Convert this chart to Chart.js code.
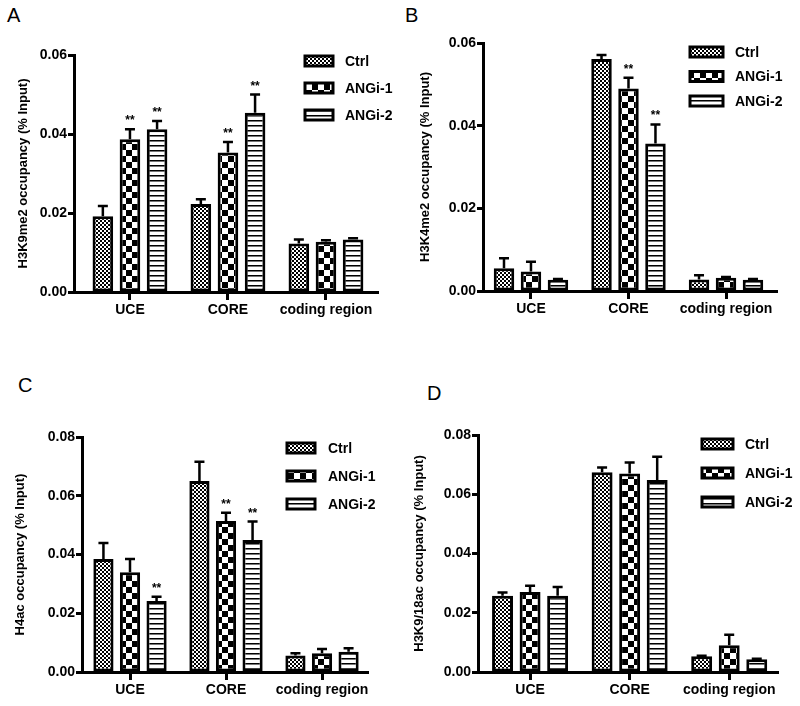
<!DOCTYPE html>
<html>
<head>
<meta charset="utf-8">
<title>Histone mark occupancy</title>
<script src="https://cdn.jsdelivr.net/npm/chart.js@4.4.0/dist/chart.umd.min.js"></script>
<style>
    body { margin: 0; background: #fff; }
    #fig { position: relative; width: 800px; height: 706px; }
    #fig canvas { position: absolute; }
    .letter { position: absolute; font: 20px "Liberation Sans", Arial, sans-serif; line-height: 20px; color: #000; }
</style>
</head>
<body>
<div id="fig">
    <div class="letter" style="left:7px;top:5px">A</div>
    <div class="letter" style="left:405px;top:5px">B</div>
    <div class="letter" style="left:18px;top:375px">C</div>
    <div class="letter" style="left:427px;top:383px">D</div>
    <canvas id="chartA" width="400" height="353" style="left:0;top:0"></canvas>
    <canvas id="chartB" width="400" height="353" style="left:400px;top:0"></canvas>
    <canvas id="chartC" width="400" height="353" style="left:0;top:353px"></canvas>
    <canvas id="chartD" width="400" height="353" style="left:400px;top:353px"></canvas>
</div>
<script>
const regions = ['UCE', 'CORE', 'coding region'];
const groups = ['Ctrl', 'ANGi-1', 'ANGi-2'];

// rows: Ctrl, ANGi-1, ANGi-2 / columns: UCE, CORE, coding region
const h3k9me2Mean = [[0.0192, 0.0223, 0.0123], [0.0387, 0.0353, 0.0127], [0.0412, 0.0454, 0.0133]];
const h3k9me2Sem = [[0.0026, 0.0012, 0.0010], [0.0025, 0.0027, 0.0004], [0.0021, 0.0046, 0.0003]];
const h3k9me2Stars = [[0, 0, 0], [1, 1, 0], [1, 1, 0]];

const h3k4me2Mean = [[0.0055, 0.0561, 0.0028], [0.0047, 0.0490, 0.0032], [0.0027, 0.0357, 0.0027]];
const h3k4me2Sem = [[0.0024, 0.0010, 0.0010], [0.0024, 0.0026, 0.0002], [0.0002, 0.0046, 0.0002]];
const h3k4me2Stars = [[0, 0, 0], [0, 1, 0], [0, 1, 0]];

const h4acMean = [[0.0385, 0.0650, 0.0056], [0.0340, 0.0514, 0.0064], [0.0242, 0.0449, 0.0069]];
const h4acSem = [[0.0054, 0.0066, 0.0008], [0.0045, 0.0028, 0.0014], [0.0014, 0.0063, 0.0012]];
const h4acStars = [[0, 0, 0], [0, 1, 0], [1, 1, 0]];

const h3k918acMean = [[0.0257, 0.0674, 0.0053], [0.0270, 0.0670, 0.0090], [0.0257, 0.0648, 0.0043]];
const h3k918acSem = [[0.0011, 0.0016, 0.0002], [0.0021, 0.0037, 0.0036], [0.0030, 0.0079, 0.0002]];
const h3k918acStars = [[0, 0, 0], [0, 0, 0], [0, 0, 0]];

const FONT = '"Liberation Sans", Arial, sans-serif';
Chart.defaults.font.family = FONT;
Chart.defaults.color = '#000';

function makePattern(kind) {
    const c = document.createElement('canvas');
    const g = c.getContext('2d');
    if (kind === 'fine') {
        c.width = 4; c.height = 4;
        g.fillStyle = '#fff'; g.fillRect(0, 0, 4, 4);
        g.fillStyle = '#000'; g.fillRect(0, 0, 2, 2); g.fillRect(2, 2, 2, 2);
    } else if (kind === 'check') {
        c.width = 12; c.height = 12;
        g.fillStyle = '#fff'; g.fillRect(0, 0, 12, 12);
        g.fillStyle = '#000'; g.fillRect(0, 0, 6, 6); g.fillRect(6, 6, 6, 6);
    } else {
        c.width = 4; c.height = 5;
        g.fillStyle = '#fff'; g.fillRect(0, 0, 4, 5);
        g.fillStyle = '#000'; g.fillRect(0, 0, 4, 1);
        g.fillStyle = '#777'; g.fillRect(0, 1, 4, 1);
    }
    return g.createPattern(c, 'repeat');
}
const fills = [makePattern('fine'), makePattern('check'), makePattern('stripe')];

// error bars (upper half only) and significance stars
const errorBars = {
    id: 'errorBars',
    afterDatasetsDraw(chart) {
        const ctx = chart.ctx;
        const yScale = chart.scales.y;
        ctx.save();
        ctx.strokeStyle = '#000';
        ctx.lineWidth = 2.5;
        ctx.fillStyle = '#000';
        ctx.font = 'bold 12px ' + FONT;
        ctx.textAlign = 'center';
        chart.data.datasets.forEach((ds, i) => {
            chart.getDatasetMeta(i).data.forEach((bar, j) => {
                const top = yScale.getPixelForValue(ds.data[j].y + ds.sem[j]);
                ctx.beginPath();
                ctx.moveTo(bar.x, bar.y);
                ctx.lineTo(bar.x, top);
                ctx.moveTo(bar.x - 5, top);
                ctx.lineTo(bar.x + 5, top);
                ctx.stroke();
                if (ds.stars[j]) ctx.fillText('**', bar.x, top - 5);
            });
        });
        ctx.restore();
    }
};

// legend with patterned boxes, placed inside the plot
const boxLegend = {
    id: 'boxLegend',
    afterDraw(chart, args, opts) {
        const ctx = chart.ctx;
        ctx.save();
        ctx.font = 'bold 14px ' + FONT;
        ctx.textBaseline = 'middle';
        chart.data.datasets.forEach((ds, i) => {
            const cy = opts.y + i * opts.gap;
            ctx.fillStyle = ds.backgroundColor;
            ctx.fillRect(opts.x, cy - 5, opts.w, 10);
            ctx.lineWidth = 3;
            ctx.strokeStyle = '#000';
            ctx.strokeRect(opts.x, cy - 5, opts.w, 10);
            ctx.fillStyle = '#000';
            ctx.fillText(ds.label, opts.labelX, cy + 1);
        });
        ctx.restore();
    }
};

function createPanel(id, means, sems, stars, yMax, title, box) {
    const datasets = groups.map((g, i) => ({
        label: g,
        data: means[i].map((v, j) => ({ x: j, y: v })),
        sem: sems[i],
        stars: stars[i],
        backgroundColor: fills[i],
        borderColor: '#000',
        borderWidth: 3,
        borderSkipped: false,
        categoryPercentage: 0.83,
        barPercentage: 0.76
    }));
    new Chart(document.getElementById(id), {
        type: 'bar',
        data: { datasets: datasets },
        plugins: [errorBars, boxLegend],
        options: {
            responsive: false,
            animation: false,
            layout: {
                padding: { left: 0, top: box.top, right: 400 - box.right, bottom: 353 - box.bottom - 36 }
            },
            scales: {
                x: {
                    type: 'linear',
                    min: box.xMin,
                    max: box.xMax,
                    offset: false,
                    afterBuildTicks: s => { s.ticks = [0, 1, 2].map(v => ({ value: v })); },
                    afterFit: s => { s.height = 36; },
                    ticks: {
                        callback: (v, i) => regions[i],
                        autoSkip: false,
                        maxRotation: 0,
                        padding: 2,
                        font: { size: 14, weight: 'bold' }
                    },
                    grid: { display: true, drawOnChartArea: false, offset: false, tickLength: 8, tickWidth: 3, tickColor: '#000' },
                    border: { display: true, color: '#000', width: 3 }
                },
                y: {
                    min: 0,
                    max: yMax,
                    afterFit: s => { s.width = box.left; },
                    ticks: {
                        stepSize: 0.02,
                        padding: 1,
                        callback: v => v.toFixed(2),
                        font: { size: 14, weight: 'bold' }
                    },
                    grid: { display: true, drawOnChartArea: false, tickLength: 6, tickWidth: 3, tickColor: '#000' },
                    border: { display: true, color: '#000', width: 3 },
                    title: {
                        display: true,
                        text: title,
                        padding: { top: box.titleX - 8, bottom: 0 },
                        font: { size: 13, weight: 'bold' }
                    }
                }
            },
            plugins: {
                legend: { display: false },
                tooltip: { enabled: false },
                boxLegend: box.legend
            }
        }
    });
}

createPanel('chartA', h3k9me2Mean, h3k9me2Sem, h3k9me2Stars, 0.06, 'H3K9me2 occupancy (% Input)', {
    left: 74, right: 378, top: 55, bottom: 292, xMin: -0.571, xMax: 2.531, titleX: 24,
    legend: { x: 305, y: 61, gap: 27, w: 28, labelX: 345 }
});
createPanel('chartB', h3k4me2Mean, h3k4me2Sem, h3k4me2Stars, 0.06, 'H3K4me2 occupancy (% Input)', {
    left: 83, right: 377, top: 43, bottom: 291, xMin: -0.492, xMax: 2.523, titleX: 26,
    legend: { x: 290, y: 52, gap: 24.5, w: 33, labelX: 335 }
});
createPanel('chartC', h4acMean, h4acSem, h4acStars, 0.08, 'H4ac occupancy (% Input)', {
    left: 82, right: 368, top: 84, bottom: 319, xMin: -0.5, xMax: 2.479, titleX: 21,
    legend: { x: 287, y: 95, gap: 28, w: 28, labelX: 328 }
});
createPanel('chartD', h3k918acMean, h3k918acSem, h3k918acStars, 0.08, 'H3K9/18ac occupancy (% Input)', {
    left: 78, right: 378, top: 82, bottom: 319, xMin: -0.523, xMax: 2.49, titleX: 20,
    legend: { x: 302, y: 91, gap: 29, w: 31, labelX: 345 }
});
</script>
</body>
</html>
